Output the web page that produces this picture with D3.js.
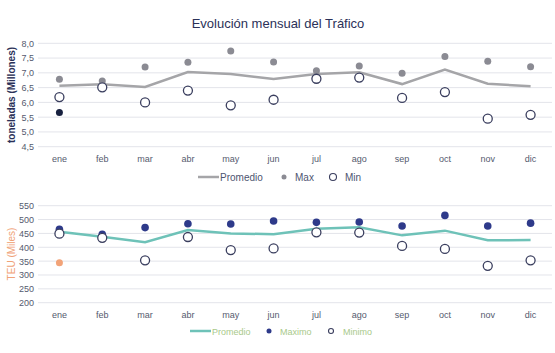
<!DOCTYPE html>
<html>
<head>
<meta charset="utf-8">
<script src="https://cdn.jsdelivr.net/npm/d3@7"></script>
<style>
  body { margin: 0; background: #fff; }
  svg { font-family: "Liberation Sans", Arial, sans-serif; }
</style>
</head>
<body>
<svg id="svg" width="555" height="353"></svg>
<script>
const months = ['ene', 'feb', 'mar', 'abr', 'may', 'jun', 'jul', 'ago', 'sep', 'oct', 'nov', 'dic']

// toneladas (millones)
const tonProm = [6.56, 6.61, 6.52, 7.03, 6.96, 6.79, 6.96, 7.02, 6.62, 7.11, 6.63, 6.55]
const tonMax = [6.78, 6.72, 7.20, 7.36, 7.74, 7.37, 7.07, 7.23, 6.99, 7.55, 7.39, 7.21]
const tonMin = [6.18, 6.51, 6.00, 6.40, 5.90, 6.09, 6.80, 6.84, 6.15, 6.35, 5.45, 5.58]
const tonActual = [5.66]
const tonTicks = [4.5, 5, 5.5, 6, 6.5, 7, 7.5, 8]

// TEU (miles)
const teuProm = [456, 438, 418, 462, 450, 447, 467, 472, 443, 460, 425, 426]
const teuMax = [465, 447, 471, 485, 484, 495, 490, 491, 477, 515, 477, 487]
const teuMin = [449, 434, 353, 437, 390, 396, 454, 453, 405, 394, 333, 353]
const teuActual = [344]
const teuTicks = [200, 250, 300, 350, 400, 450, 500, 550]

const svg = d3.select('#svg')

svg.append('text')
  .attr('x', 278).attr('y', 28)
  .attr('text-anchor', 'middle')
  .style('font-size', '13px')
  .style('fill', '#2b3158')
  .text('Evolución mensual del Tráfico')

const drawPanel = (opts) => {
  const x = d3.scaleBand().domain(months).range([38, 552])
  const y = d3.scaleLinear().domain(opts.domain).range(opts.yRange)
  const cx = d => x(d) + x.bandwidth() / 2
  const g = svg.append('g')

  g.selectAll('line.grid')
    .data(opts.ticks)
    .join('line')
    .attr('class', 'grid')
    .attr('x1', 38).attr('x2', 552)
    .attr('y1', d => y(d)).attr('y2', d => y(d))
    .attr('stroke', '#e3e4ea').attr('stroke-width', 1)

  const yAxis = g.append('g')
    .attr('transform', 'translate(38,0)')
    .call(d3.axisLeft(y).tickValues(opts.ticks).tickSize(0).tickPadding(4).tickFormat(opts.fmt))
  yAxis.select('.domain').remove()
  yAxis.selectAll('text').style('font-size', '9px').style('fill', '#555a6e').style('font-family', '"Liberation Sans", Arial, sans-serif')

  const xAxis = g.append('g')
    .attr('transform', `translate(0,${opts.yRange[0]})`)
    .call(d3.axisBottom(x).tickSize(0).tickPadding(9))
  xAxis.select('.domain').remove()
  xAxis.selectAll('text').style('font-size', '9px').style('fill', '#555a6e').style('font-family', '"Liberation Sans", Arial, sans-serif')

  g.append('text')
    .attr('transform', `translate(15,${opts.labelY}) rotate(-90)`)
    .attr('text-anchor', 'middle')
    .style('font-size', '10px')
    .style('font-weight', opts.labelWeight)
    .style('fill', opts.labelColor)
    .text(opts.label)

  const line = d3.line().x((d, i) => cx(months[i])).y(d => y(d))
  g.append('path')
    .datum(opts.prom)
    .attr('d', line)
    .attr('fill', 'none')
    .attr('stroke', opts.lineColor)
    .attr('stroke-width', 2.5)

  g.selectAll('circle.max')
    .data(opts.max)
    .join('circle')
    .attr('class', 'max')
    .attr('cx', (d, i) => cx(months[i]))
    .attr('cy', d => y(d))
    .attr('r', opts.maxR)
    .attr('fill', opts.maxColor)

  g.selectAll('circle.min')
    .data(opts.min)
    .join('circle')
    .attr('class', 'min')
    .attr('cx', (d, i) => cx(months[i]))
    .attr('cy', d => y(d))
    .attr('r', 4.5)
    .attr('fill', '#fff')
    .attr('stroke', '#3a3e5e')
    .attr('stroke-width', 1.3)

  g.selectAll('circle.actual')
    .data(opts.actual)
    .join('circle')
    .attr('class', 'actual')
    .attr('cx', (d, i) => cx(months[i]))
    .attr('cy', d => y(d))
    .attr('r', 3.5)
    .attr('fill', opts.actualColor)

  // legend
  const lg = svg.append('g').attr('transform', `translate(0,${opts.legendY})`)
  const L = opts.legend
  lg.append('line').attr('x1', L[0]).attr('x2', L[0] + 21).attr('y1', 0).attr('y2', 0)
    .attr('stroke', opts.lineColor).attr('stroke-width', 2.5)
  lg.append('text').attr('x', L[0] + 22).attr('y', 3.5).text('Promedio')
  lg.append('circle').attr('cx', L[1]).attr('cy', 0).attr('r', opts.legendMaxR).attr('fill', opts.maxColor)
  lg.append('text').attr('x', L[1] + 11).attr('y', 3.5).text(opts.maxName)
  lg.append('circle').attr('cx', L[2]).attr('cy', 0).attr('r', opts.legendMinR)
    .attr('fill', '#fff').attr('stroke', '#3a3e5e').attr('stroke-width', 1.1)
  lg.append('text').attr('x', L[2] + 12).attr('y', 3.5).text(opts.minName)
  lg.selectAll('text').style('font-size', opts.legendFont).style('fill', opts.legendColor)
}

drawPanel({
  domain: [4.5, 8], yRange: [146.7, 43.3], ticks: tonTicks,
  fmt: d3.format('.1f'),
  label: 'toneladas (Millones)', labelY: 95, labelWeight: 'bold', labelColor: '#2b3158',
  prom: tonProm, max: tonMax, min: tonMin, actual: tonActual,
  lineColor: '#a5a5a8', maxColor: '#8b8b93', maxR: 3.5, actualColor: '#17203f',
  legendY: 177, legend: [198, 284, 333], legendMaxR: 2.5, legendMinR: 3.5,
  maxName: 'Max', minName: 'Min', legendFont: '10px', legendColor: '#4e5470'
})

drawPanel({
  domain: [200, 550], yRange: [302.7, 205.7], ticks: teuTicks,
  fmt: d3.format('d'),
  label: 'TEU (Miles)', labelY: 254, labelWeight: 'normal', labelColor: '#f0a277',
  prom: teuProm, max: teuMax, min: teuMin, actual: teuActual,
  lineColor: '#6ec2b8', maxColor: '#2e3a8a', maxR: 3.8, actualColor: '#f2a378',
  legendY: 331, legend: [190, 269, 331], legendMaxR: 2.5, legendMinR: 2.5,
  maxName: 'Maximo', minName: 'Minimo', legendFont: '9px', legendColor: '#a9c98a'
})

// format commas for decimal ticks in the top panel
svg.selectAll('g text').each(function () {
  const t = d3.select(this).text()
  if (/^\d\.\d$/.test(t)) d3.select(this).text(t.replace('.', ','))
})
</script>
</body>
</html>
